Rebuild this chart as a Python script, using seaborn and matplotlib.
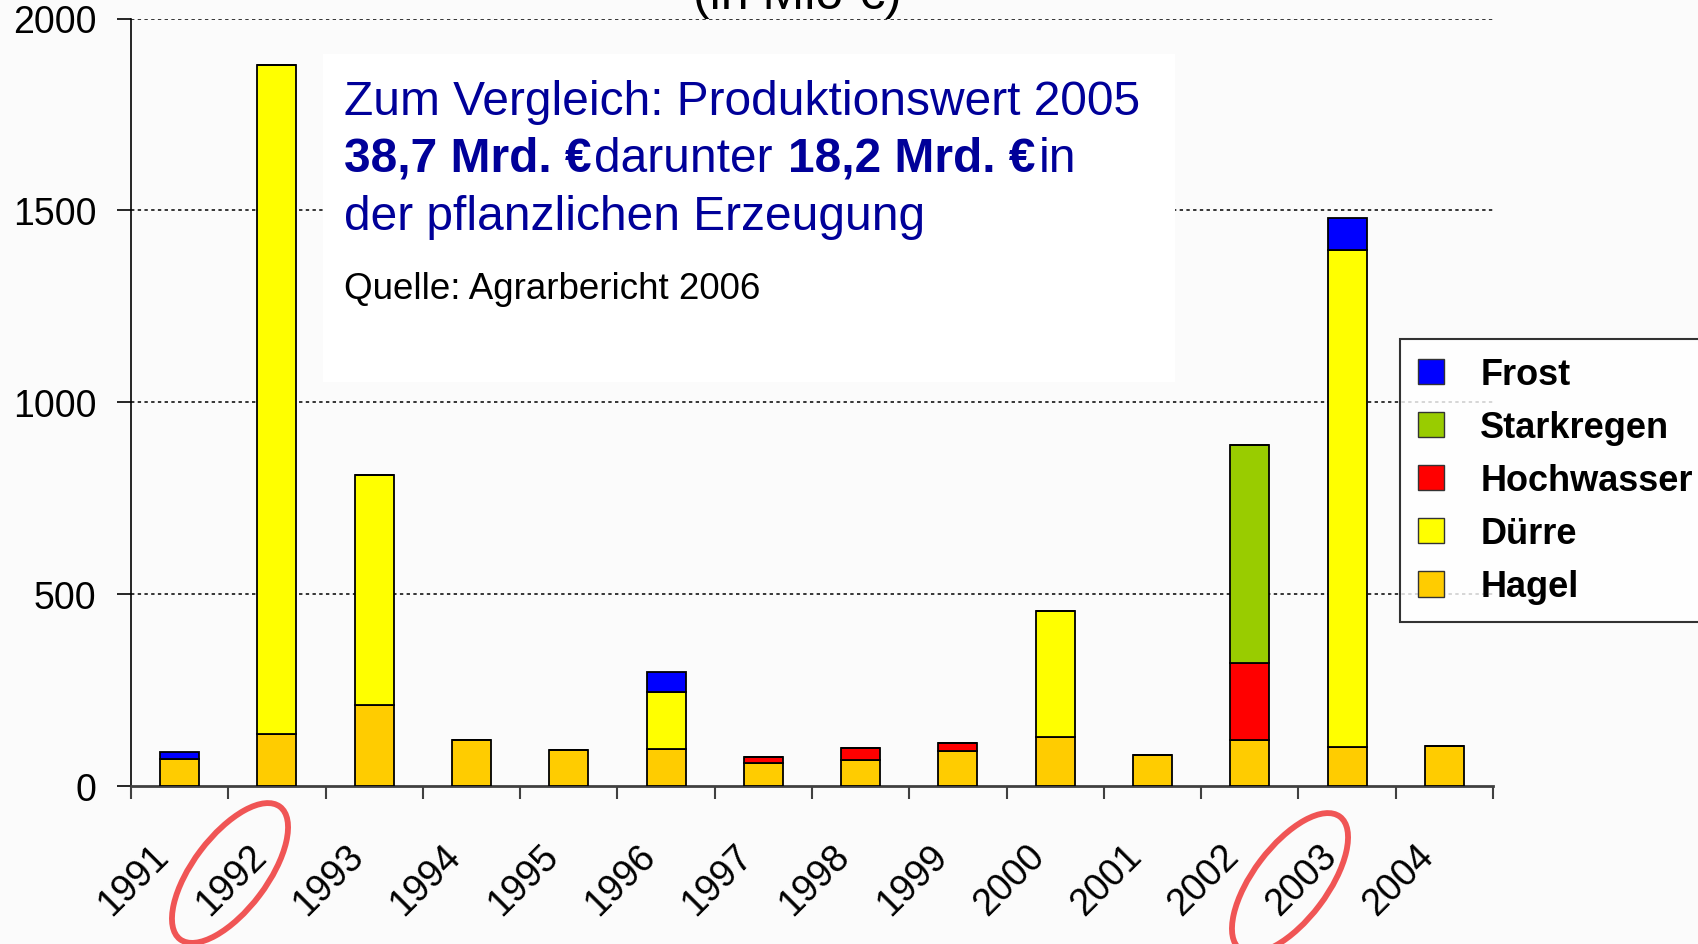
import matplotlib
matplotlib.use("Agg")
import matplotlib.pyplot as plt
import matplotlib.transforms as mtransforms
from matplotlib.patches import Ellipse, Rectangle, Patch
import seaborn as sns

# --- data (Mio EUR) ---
years = ["1991", "1992", "1993", "1994", "1995", "1996", "1997",
         "1998", "1999", "2000", "2001", "2002", "2003", "2004"]
hagel = [70, 134, 210, 120, 94, 95, 60, 67, 89, 128, 80, 119, 100, 102]
duerre = [0, 1745, 600, 0, 0, 150, 0, 0, 0, 326, 0, 0, 1297, 0]
hochwasser = [0, 0, 0, 0, 0, 0, 15, 30, 22, 0, 0, 200, 0, 0]
starkregen = [0, 0, 0, 0, 0, 0, 0, 0, 0, 0, 0, 570, 0, 0]
frost = [17, 0, 0, 0, 0, 50, 0, 0, 0, 0, 0, 0, 83, 0]

series = [("Hagel", hagel, "#FFCC00"),
          ("Dürre", duerre, "#FFFF00"),
          ("Hochwasser", hochwasser, "#FF0000"),
          ("Starkregen", starkregen, "#99CC00"),
          ("Frost", frost, "#0000FF")]

sns.set_style("white")
plt.rcParams["font.family"] = ["Liberation Sans", "DejaVu Sans"]
plt.rcParams["text.color"] = "black"
plt.rcParams["xtick.color"] = "black"
plt.rcParams["ytick.color"] = "black"

W, H = 1699, 945
bg = "#fbfbfb"
fig = plt.figure(figsize=(W / 100, H / 100), dpi=100, facecolor=bg)
ax = fig.add_axes([131 / W, 158.4 / H, (1493 - 131) / W, (925.5 - 158.4) / H])
ax.set_facecolor(bg)

# --- stacked bars ---
bottom = [0] * len(years)
for name, vals, col in series:
    sns.barplot(x=years, y=vals, bottom=bottom, color=col, saturation=1,
                width=0.4, edgecolor="black", linewidth=1.3, errorbar=None,
                order=years, ax=ax, zorder=3)
    bottom = [b + v for b, v in zip(bottom, vals)]

ax.set_xlim(-0.5, len(years) - 0.5)
ax.set_ylim(0, 2000)
ax.set_yticks([0, 500, 1000, 1500, 2000])
ax.set_xlabel("")
ax.set_ylabel("")

# grid
for v in [500, 1000, 1500, 2000]:
    ax.axhline(v, color="black", lw=1.1, ls=(0, (2.2, 2.2)), zorder=1)

for s in ["top", "right"]:
    ax.spines[s].set_visible(False)
ax.spines["left"].set_color("black")
ax.spines["left"].set_linewidth(1.2)
ax.spines["bottom"].set_color("#404040")
ax.spines["bottom"].set_linewidth(2.0)

ax.tick_params(axis="y", length=10, width=1.2, color="black", pad=15,
               labelsize=27, left=True, labelcolor="black")
ax.set_xticks(range(len(years)))
ax.set_xticks([i - 0.5 for i in range(len(years) + 1)], minor=True)
ax.tick_params(axis="x", which="minor", length=9.5, width=1.5, color="#404040",
               bottom=True)
ax.tick_params(axis="x", which="major", length=0, pad=37, labelsize=27,
               labelcolor="black")
ax.set_xticklabels(years, rotation=45, ha="right", rotation_mode="anchor")
shift = mtransforms.ScaledTranslation(-29 / 100, 0, fig.dpi_scale_trans)
for lab in ax.get_xticklabels():
    lab.set_transform(lab.get_transform() + shift)

# --- annotation box ---
fig.add_artist(Rectangle((323 / W, 1 - 383 / H), (1175 - 323) / W, (383 - 55) / H,
                         transform=fig.transFigure, facecolor="white",
                         edgecolor="none", zorder=1))
blue = "#000099"
fs = 34.5
fig.text(344 / W, 1 - 115 / H, "Zum Vergleich: Produktionswert 2005",
         color=blue, fontsize=fs, va="baseline", zorder=2)
renderer = fig.canvas.get_renderer()
parts = [("38,7 Mrd. €", "bold", 3), ("darunter", "normal", 15),
         ("18,2 Mrd. €", "bold", 3), ("in", "normal", 0)]
x = 344
for txt, wgt, gap in parts:
    t = fig.text(x / W, 1 - 172 / H, txt, color=blue, fontsize=fs,
                 fontweight=wgt, va="baseline", zorder=2)
    x = t.get_window_extent(renderer).x1 + gap
fig.text(344 / W, 1 - 230 / H, "der pflanzlichen Erzeugung",
         color=blue, fontsize=fs, va="baseline", zorder=2)
fig.text(344 / W, 1 - 299 / H, "Quelle: Agrarbericht 2006",
         color="black", fontsize=26.5, va="baseline", zorder=2)

# title, cut off at the top edge
fig.text(797 / W, 1 - 9 / H, "(in Mio €)", fontsize=36, ha="center",
         va="baseline", color="black")

# --- legend ---
handles = [Patch(facecolor=c, edgecolor="#333333", linewidth=1.0, label=n)
           for n, v, c in series[::-1]]
leg = fig.legend(handles=handles, loc="upper left",
                 bbox_to_anchor=(1400 / W, 1 - 340 / H), borderaxespad=0,
                 prop={"weight": "bold", "size": 26}, frameon=True,
                 fancybox=False, handlelength=0.72, handleheight=0.72,
                 handletextpad=1.0, labelspacing=0.5, borderpad=0.5,
                 labelcolor="black")
leg.get_frame().set_edgecolor("black")
leg.get_frame().set_linewidth(1.5)
leg.get_frame().set_facecolor("white")

# --- red ellipses round 1992 and 2003 ---
ident = mtransforms.IdentityTransform()
for cx, cy in [(230, 874), (1290, 884)]:
    fig.add_artist(Ellipse((cx, H - cy), 166, 74, angle=53, transform=ident,
                           fill=False, edgecolor="#F05555", linewidth=4.2,
                           zorder=5))

fig.savefig("out.png", dpi=100, facecolor=bg)
